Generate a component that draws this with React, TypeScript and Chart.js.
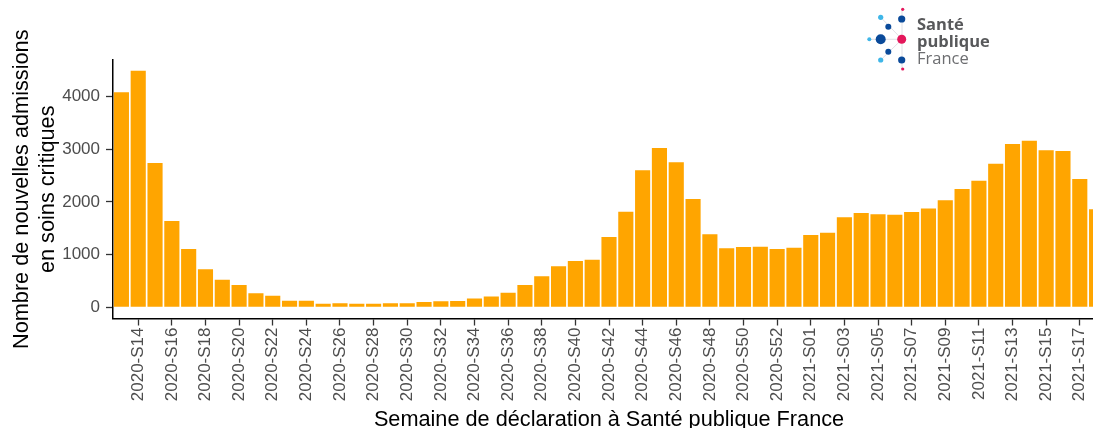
import { useEffect, useRef } from "react";
import Chart from "chart.js/auto";

const weeks = [
  "2020-S13", "2020-S14", "2020-S15", "2020-S16", "2020-S17", "2020-S18", "2020-S19", "2020-S20",
  "2020-S21", "2020-S22", "2020-S23", "2020-S24", "2020-S25", "2020-S26", "2020-S27", "2020-S28",
  "2020-S29", "2020-S30", "2020-S31", "2020-S32", "2020-S33", "2020-S34", "2020-S35", "2020-S36",
  "2020-S37", "2020-S38", "2020-S39", "2020-S40", "2020-S41", "2020-S42", "2020-S43", "2020-S44",
  "2020-S45", "2020-S46", "2020-S47", "2020-S48", "2020-S49", "2020-S50", "2020-S51", "2020-S52",
  "2020-S53", "2021-S01", "2021-S02", "2021-S03", "2021-S04", "2021-S05", "2021-S06", "2021-S07",
  "2021-S08", "2021-S09", "2021-S10", "2021-S11", "2021-S12", "2021-S13", "2021-S14", "2021-S15",
  "2021-S16", "2021-S17", "2021-S18",
];

const admissions = [
  4083, 4494, 2741, 1639, 1107, 721, 522, 421,
  266, 221, 123, 123, 69, 78, 69, 69,
  79, 79, 101, 114, 120, 168, 203, 278,
  424, 588, 778, 880, 905, 1335, 1816, 2602,
  3026, 2754, 2057, 1386, 1120, 1145, 1152, 1107,
  1133, 1373, 1418, 1709, 1791, 1766, 1760, 1810,
  1874, 2032, 2247, 2405, 2728, 3101, 3165, 2982,
  2969, 2437, 1861,
];

const yTicks = [0, 1000, 2000, 3000, 4000];

const FONT = "'Liberation Sans', Arial, Helvetica, sans-serif";

function Logo() {
  const dots = [
    { x: 36.7, y: 3.3, r: 1.6, c: "#e4175b" },
    { x: 14.7, y: 11.3, r: 2.6, c: "#3fb6e8" },
    { x: 35.7, y: 13, r: 3.6, c: "#0a4a9a" },
    { x: 22.3, y: 20.7, r: 3, c: "#0a4a9a" },
    { x: 3.3, y: 33.3, r: 2, c: "#3fb6e8" },
    { x: 14.7, y: 33.3, r: 5, c: "#0a4a9a" },
    { x: 35.7, y: 33.3, r: 4.5, c: "#e4175b" },
    { x: 22.3, y: 45.7, r: 3, c: "#0a4a9a" },
    { x: 14.7, y: 54, r: 2.6, c: "#3fb6e8" },
    { x: 35.7, y: 54, r: 3.6, c: "#0a4a9a" },
    { x: 36.7, y: 63, r: 1.6, c: "#e4175b" },
  ];
  return (
    <div style={{ position: "absolute", left: 866, top: 6, width: 140, height: 68 }}>
      <svg width={44} height={68} style={{ position: "absolute", left: 0, top: 0 }}>
        <line x1={36} y1={3} x2={36} y2={63} stroke="#d8d8de" strokeWidth={0.8} />
        <line x1={3} y1={33.3} x2={36} y2={33.3} stroke="#d8d8de" strokeWidth={0.8} />
        <line x1={14.7} y1={11.3} x2={36} y2={33.3} stroke="#d8d8de" strokeWidth={0.8} />
        <line x1={14.7} y1={54} x2={36} y2={33.3} stroke="#d8d8de" strokeWidth={0.8} />
        {dots.map((d, i) => (
          <circle key={i} cx={d.x} cy={d.y} r={d.r} fill={d.c} />
        ))}
      </svg>
      <div
        style={{
          position: "absolute",
          left: 51,
          top: 9,
          fontFamily: "'Open Sans', sans-serif",
          fontSize: 16.5,
          lineHeight: "17px",
          color: "#58595b",
          whiteSpace: "nowrap",
        }}
      >
        <div style={{ fontWeight: 700 }}>Santé</div>
        <div style={{ fontWeight: 700 }}>publique</div>
        <div style={{ fontWeight: 400, color: "#6d6e71" }}>France</div>
      </div>
    </div>
  );
}

export default function App() {
  const canvasRef = useRef<HTMLCanvasElement | null>(null);

  useEffect(() => {
    document.body.style.margin = "0";
    if (!canvasRef.current) return;

    const chart = new Chart(canvasRef.current, {
      type: "bar",
      data: {
        labels: weeks,
        datasets: [
          {
            data: admissions,
            backgroundColor: "#ffa500",
            borderWidth: 0,
            barPercentage: 0.9,
            categoryPercentage: 1,
          },
        ],
      },
      options: {
        animation: false,
        responsive: true,
        maintainAspectRatio: false,
        layout: { padding: { top: 60, left: 0, right: 0, bottom: 0 } },
        plugins: {
          legend: { display: false },
          tooltip: { enabled: false },
        },
        scales: {
          x: {
            offset: true,
            afterFit(scale) {
              scale.height = 114.5;
              scale.paddingRight = 0;
              scale.paddingLeft = 0;
            },
            border: { display: true, color: "#000", width: 1.5 },
            grid: {
              offset: false,
              drawOnChartArea: false,
              drawTicks: true,
              tickLength: 7,
              tickWidth: 1.3,
              tickColor: (ctx) => (ctx.index % 2 === 1 ? "#333" : "rgba(0,0,0,0)"),
            },
            ticks: {
              autoSkip: false,
              maxRotation: 90,
              minRotation: 90,
              padding: 2,
              color: "#4d4d4d",
              font: { family: FONT, size: 17 },
              callback: (_v, index) => (index % 2 === 1 ? weeks[index] : ""),
            },
            title: {
              display: true,
              text: "Semaine de déclaration à Santé publique France",
              color: "#000",
              font: { family: FONT, size: 21.7, lineHeight: 1.2 },
              padding: { top: 0, bottom: 0 },
            },
          },
          y: {
            min: -213,
            max: 4697,
            afterFit(scale) {
              scale.width = 113;
            },
            afterBuildTicks(scale) {
              scale.ticks = yTicks.map((v) => ({ value: v }));
            },
            border: { display: true, color: "#000", width: 1.5 },
            grid: {
              drawOnChartArea: false,
              drawTicks: true,
              tickLength: 7,
              tickWidth: 1.3,
              tickColor: "#333",
            },
            ticks: {
              padding: 6,
              color: "#4d4d4d",
              font: { family: FONT, size: 17 },
              callback: (v) => String(v),
            },
            title: {
              display: true,
              text: ["Nombre de nouvelles admissions", "en soins critiques"],
              color: "#000",
              font: { family: FONT, size: 21.7, lineHeight: 1.2 },
              padding: { top: 9, bottom: 0 },
            },
          },
        },
      },
    });

    return () => chart.destroy();
  }, []);

  return (
    <div
      style={{
        position: "relative",
        width: 1093,
        height: 428,
        overflow: "hidden",
        background: "#fff",
      }}
    >
      <div style={{ position: "absolute", left: 0, top: 0, width: 1105, height: 433 }}>
        <canvas ref={canvasRef} />
      </div>
      <Logo />
    </div>
  );
}
